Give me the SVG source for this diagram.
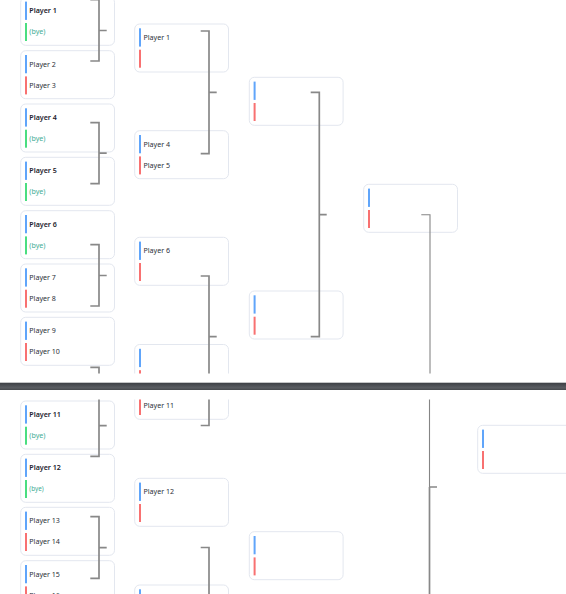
<svg xmlns="http://www.w3.org/2000/svg" width="566" height="594" viewBox="0 0 566 594">
<style>
.card{fill:#fff;stroke:#e3e7ef;stroke-width:1}
.bb{fill:#60a5fa}
.rb{fill:#f87171}
.gb{fill:#4ade80}
.t{font-family:"Noto Sans","Open Sans",sans-serif;font-size:7.1px;fill:#2b3038}
.w{font-weight:600;fill:#1c222c}
.bye{fill:#43ad96}
.cn{fill:none;stroke:#888;stroke-width:1.7}
.cn1{fill:none;stroke:#858585;stroke-width:1.1}
</style>
<defs>
<clipPath id="clipTop"><rect x="0" y="0" width="566" height="373.5"/></clipPath>
<clipPath id="clipBot"><rect x="0" y="399.5" width="566" height="194.5"/></clipPath>
<linearGradient id="sep" x1="0" y1="0" x2="0" y2="1">
<stop offset="0" stop-color="#3c3f44"/>
<stop offset="0.7" stop-color="#5a5d62"/>
<stop offset="1" stop-color="#45484c"/>
</linearGradient>
</defs>
<rect width="566" height="594" fill="#fff"/>

<g clip-path="url(#clipTop)">
<g id="r1-m1"><rect class="card" x="20.7" y="-2.7" width="93.8" height="48" rx="5"/><rect class="bb" x="25" y="1.6" width="2" height="18.3"/><rect class="gb" x="25" y="23" width="2" height="18"/><text class="t w" x="29.3" y="13.4">Player 1</text><text class="t bye" x="29.3" y="34.4">(bye)</text></g>
<g id="r1-m2"><rect class="card" x="20.7" y="50.7" width="93.8" height="48" rx="5"/><rect class="bb" x="25" y="55" width="2" height="18.3"/><rect class="rb" x="25" y="76.4" width="2" height="18"/><text class="t" x="29.3" y="66.8">Player 2</text><text class="t" x="29.3" y="87.8">Player 3</text></g>
<g id="r1-m3"><rect class="card" x="20.7" y="104" width="93.8" height="48" rx="5"/><rect class="bb" x="25" y="108.3" width="2" height="18.3"/><rect class="gb" x="25" y="129.7" width="2" height="18"/><text class="t w" x="29.3" y="120.1">Player 4</text><text class="t bye" x="29.3" y="141.1">(bye)</text></g>
<g id="r1-m4"><rect class="card" x="20.7" y="157.3" width="93.8" height="48" rx="5"/><rect class="bb" x="25" y="161.6" width="2" height="18.3"/><rect class="gb" x="25" y="183" width="2" height="18"/><text class="t w" x="29.3" y="173.4">Player 5</text><text class="t bye" x="29.3" y="194.4">(bye)</text></g>
<g id="r1-m5"><rect class="card" x="20.7" y="210.7" width="93.8" height="48" rx="5"/><rect class="bb" x="25" y="215" width="2" height="18.3"/><rect class="gb" x="25" y="236.4" width="2" height="18"/><text class="t w" x="29.3" y="226.8">Player 6</text><text class="t bye" x="29.3" y="247.8">(bye)</text></g>
<g id="r1-m6"><rect class="card" x="20.7" y="264" width="93.8" height="48" rx="5"/><rect class="bb" x="25" y="268.3" width="2" height="18.3"/><rect class="rb" x="25" y="289.7" width="2" height="18"/><text class="t" x="29.3" y="280.1">Player 7</text><text class="t" x="29.3" y="301.1">Player 8</text></g>
<g id="r1-m7"><rect class="card" x="20.7" y="317.3" width="93.8" height="48" rx="5"/><rect class="bb" x="25" y="321.6" width="2" height="18.3"/><rect class="rb" x="25" y="343" width="2" height="18"/><text class="t" x="29.3" y="333.4">Player 9</text><text class="t" x="29.3" y="354.4">Player 10</text></g>

<g id="r2-m1"><rect class="card" x="134.7" y="24" width="93.8" height="48" rx="5"/><rect class="bb" x="139" y="28.3" width="2" height="18.3"/><rect class="rb" x="139" y="49.7" width="2" height="18"/><text class="t" x="143.5" y="40.1">Player 1</text></g>
<g id="r2-m2"><rect class="card" x="134.7" y="130.7" width="93.8" height="48" rx="5"/><rect class="bb" x="139" y="135" width="2" height="18.3"/><rect class="rb" x="139" y="156.4" width="2" height="18"/><text class="t" x="143.5" y="146.8">Player 4</text><text class="t" x="143.5" y="167.8">Player 5</text></g>
<g id="r2-m3"><rect class="card" x="134.7" y="237.3" width="93.8" height="48" rx="5"/><rect class="bb" x="139" y="241.6" width="2" height="18.3"/><rect class="rb" x="139" y="263" width="2" height="18"/><text class="t" x="143.5" y="253.4">Player 6</text></g>
<g id="r2-m4"><rect class="card" x="134.7" y="344.5" width="93.8" height="48" rx="5"/><rect class="bb" x="139" y="348.8" width="2" height="18.3"/><rect class="rb" x="139" y="370.2" width="2" height="18"/></g>

<g id="r3-m1"><rect class="card" x="249.3" y="77.3" width="93.8" height="48" rx="5"/><rect class="bb" x="253.6" y="81.6" width="2" height="18.3"/><rect class="rb" x="253.6" y="103" width="2" height="18"/></g>
<g id="r3-m2"><rect class="card" x="249.3" y="291" width="93.8" height="48" rx="5"/><rect class="bb" x="253.6" y="295.3" width="2" height="18.3"/><rect class="rb" x="253.6" y="316.7" width="2" height="18"/></g>

<g id="r4-m1"><rect class="card" x="363.7" y="184.3" width="93.8" height="48" rx="5"/><rect class="bb" x="368" y="188.6" width="2" height="18.3"/><rect class="rb" x="368" y="210" width="2" height="18"/></g>

<g id="connectors-top">
<path class="cn" d="M90.3,-0.3H99V61H90.3M99,30.5H106.7"/>
<path class="cn" d="M90.3,122.7H99V183.7H90.3M99,153.2H106.7"/>
<path class="cn" d="M90.3,244.7H99V306H90.3M99,275.5H106.7"/>
<path class="cn" d="M90.3,367.3H99V430"/>
<path class="cn" d="M200.7,31H209V153.7H200.7M209,92.3H216.7"/>
<path class="cn" d="M200.7,276H209V400M209,336.7H216.7"/>
<path class="cn" d="M310.7,92.3H319.3V336.7H310.7M319.3,214.7H326.7"/>
<path class="cn1" d="M421.3,214.7H430V400"/>
</g>
</g>

<rect id="separator" x="0" y="382.7" width="566" height="7.3" fill="url(#sep)"/>

<g clip-path="url(#clipBot)">
<g id="r1-m8"><rect class="card" x="20.7" y="401" width="93.8" height="48" rx="5"/><rect class="bb" x="25" y="405.3" width="2" height="18.3"/><rect class="gb" x="25" y="426.7" width="2" height="18"/><text class="t w" x="29.3" y="417.1">Player 11</text><text class="t bye" x="29.3" y="438.1">(bye)</text></g>
<g id="r1-m9"><rect class="card" x="20.7" y="454.3" width="93.8" height="48" rx="5"/><rect class="bb" x="25" y="458.6" width="2" height="18.3"/><rect class="gb" x="25" y="480" width="2" height="18"/><text class="t w" x="29.3" y="470.4">Player 12</text><text class="t bye" x="29.3" y="491" style="font-size:6.3px">(bye)</text></g>
<g id="r1-m10"><rect class="card" x="20.7" y="507.3" width="93.8" height="48" rx="5"/><rect class="bb" x="25" y="511.6" width="2" height="18.3"/><rect class="rb" x="25" y="533" width="2" height="18"/><text class="t" x="29.3" y="523.4">Player 13</text><text class="t" x="29.3" y="544.4">Player 14</text></g>
<g id="r1-m11"><rect class="card" x="20.7" y="560.7" width="93.8" height="48" rx="5"/><rect class="bb" x="25" y="565" width="2" height="18.3"/><rect class="rb" x="25" y="586.4" width="2" height="18"/><text class="t" x="29.3" y="576.8">Player 15</text><text class="t" x="29.3" y="597.8">Player 16</text></g>

<g id="r2-m4b"><rect class="card" x="134.7" y="371.3" width="93.8" height="48" rx="5"/><rect class="bb" x="139" y="375.6" width="2" height="18.3"/><rect class="rb" x="139" y="397" width="2" height="18"/><text class="t" x="143.5" y="408.4">Player 11</text></g>
<g id="r2-m5"><rect class="card" x="134.7" y="478.3" width="93.8" height="48" rx="5"/><rect class="bb" x="139" y="482.6" width="2" height="18.3"/><rect class="rb" x="139" y="504" width="2" height="18"/><text class="t" x="143.5" y="494.4">Player 12</text></g>
<g id="r2-m6"><rect class="card" x="134.7" y="585" width="93.8" height="48" rx="5"/><rect class="bb" x="139" y="589.3" width="2" height="18.3"/></g>

<g id="r3-m3"><rect class="card" x="249.3" y="531.7" width="93.8" height="48" rx="5"/><rect class="bb" x="253.6" y="536" width="2" height="18.3"/><rect class="rb" x="253.6" y="557.4" width="2" height="18"/></g>

<g id="r5-final"><rect class="card" x="477.7" y="425.3" width="93.8" height="48" rx="5"/><rect class="bb" x="482" y="429.6" width="2" height="18.3"/><rect class="rb" x="482" y="451" width="2" height="18"/></g>

<g id="connectors-bottom">
<path class="cn" d="M99,390V456.3H90.3M99,425.7H106.7"/>
<path class="cn" d="M90.3,516.7H99V578.3H90.3M99,547.6H106.7"/>
<path class="cn" d="M209,390V425.5H200.7"/>
<path class="cn" d="M200.7,547.5H209V600"/>
<path class="cn1" d="M429.5,390V487"/>
<path class="cn" d="M429.5,487V600M429.5,487H437"/>
</g>
</g>
</svg>
